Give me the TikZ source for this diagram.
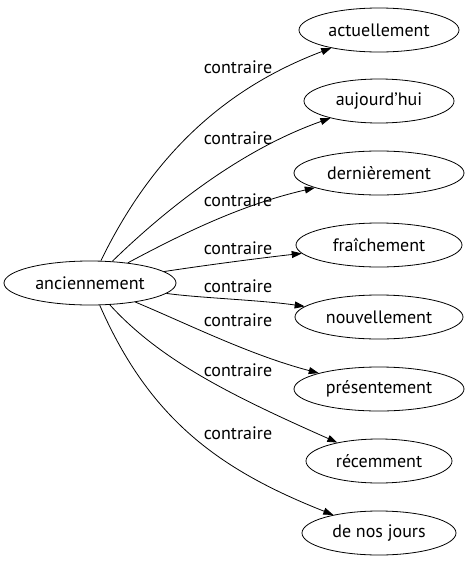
\documentclass[tikz,border=0pt]{standalone}
\usepackage{fontspec}
\setmainfont{PT Sans}
\usetikzlibrary{arrows.meta, shapes.geometric}

\begin{document}
\begin{tikzpicture}[
  x=1pt, y=-1pt,
  every node/.style={font=\fontsize{18pt}{20pt}\selectfont},
  mot/.style={ellipse, draw, line width=0.8pt, inner sep=0pt, minimum height=44pt},
  lab/.style={inner sep=1pt},
  arr/.style={-{Triangle[length=10pt, width=7pt]}, line width=0.8pt},
]
\useasboundingbox (0,0) rectangle (473,563);

\node[mot, minimum width=172pt] (anc) at (90,283) {anciennement};

\node[mot, minimum width=160pt] (act) at (379,30)  {actuellement};
\node[mot, minimum width=150pt] (auj) at (379,101) {aujourd'hui};
\node[mot, minimum width=170pt] (der) at (379,173) {dernièrement};
\node[mot, minimum width=166pt] (fra) at (379,245) {fraîchement};
\node[mot, minimum width=168pt] (nou) at (379,317) {nouvellement};
\node[mot, minimum width=170pt] (pre) at (379,389) {présentement};
\node[mot, minimum width=146pt] (rec) at (379,461) {récemment};
\node[mot, minimum width=154pt] (jou) at (379,533) {de nos jours};

% labels
\node[lab] (l1) at (238,67)  {contraire};
\node[lab] (l2) at (238,138) {contraire};
\node[lab] (l3) at (238,200) {contraire};
\node[lab] (l4) at (238,248) {contraire};
\node[lab] (l5) at (238,286) {contraire};
\node[lab] (l6) at (238,320) {contraire};
\node[lab] (l7) at (238,370) {contraire};
\node[lab] (l8) at (238,433) {contraire};

\draw[arr] (anc) .. controls (150,160) and (220,90) .. (act);
\draw[arr] (anc) .. controls (165,210) and (240,150) .. (auj);
\draw[arr] (anc) .. controls (180,235) and (240,205) .. (der);
\draw[arr] (anc) .. controls (200,266) and (260,258) .. (fra);
\draw[arr] (anc) .. controls (200,298) and (260,300) .. (nou);
\draw[arr] (anc) .. controls (190,325) and (250,355) .. (pre);
\draw[arr] (anc) .. controls (160,360) and (230,395) .. (rec);
\draw[arr] (anc) .. controls (150,420) and (220,470) .. (jou);
\end{tikzpicture}
\end{document}
